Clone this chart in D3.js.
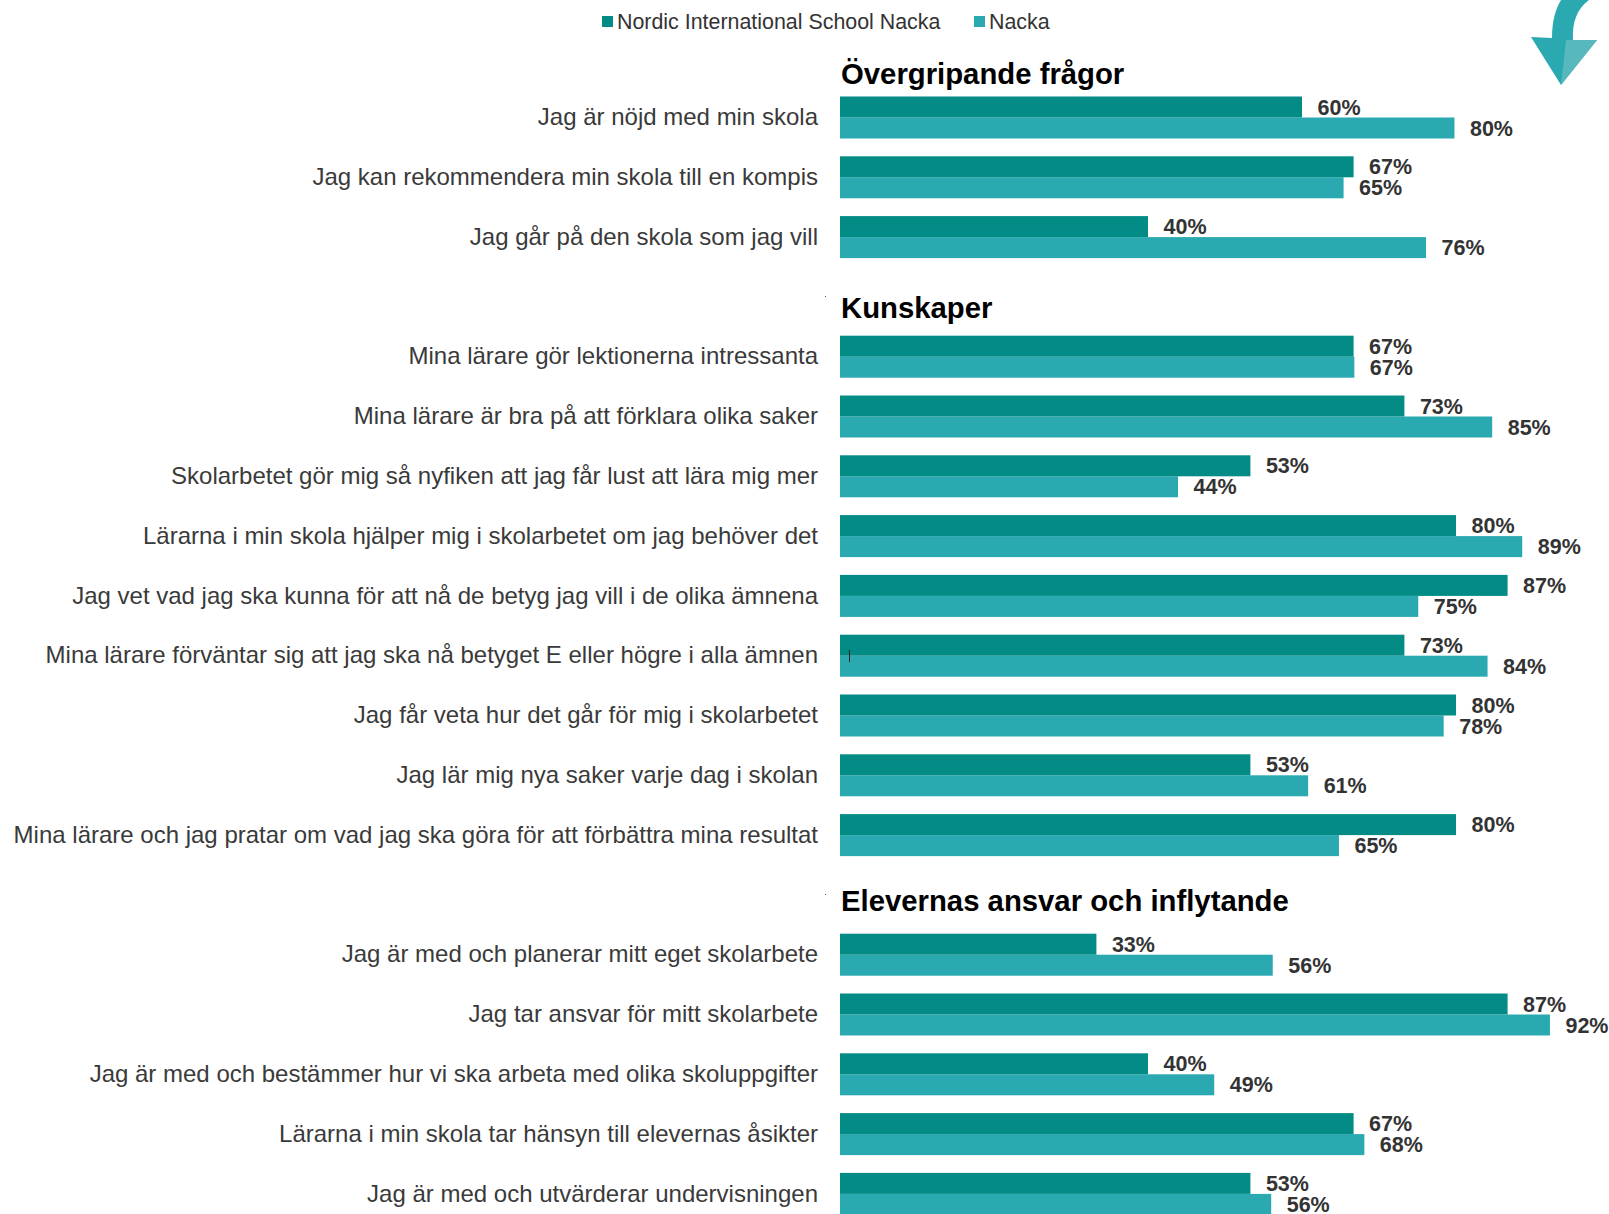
<!DOCTYPE html>
<html>
<head>
<meta charset="utf-8">
<script src="https://cdn.jsdelivr.net/npm/d3@7"></script>
<style>
    body { margin: 0; background: #fff; overflow: hidden; }
    svg { display: block; font-family: "Liberation Sans", Arial, sans-serif; }
    .axis text { font-size: 24px; fill: #3a3a3a; }
    .valueLabel { font-size: 21.5px; font-weight: bold; fill: #333; }
    .heading { font-size: 29.3px; font-weight: bold; fill: #000; }
    .legendText { font-size: 21.4px; fill: #333; }
</style>
</head>
<body>
<script>
//chart data
var seriesNames = ["Nordic International School Nacka", "Nacka"];
var seriesColors = ["#028c85", "#2aa9b0"];

var headings = ["Övergripande frågor", "Kunskaper", "Elevernas ansvar och inflytande"];
var headingLift = [13, 18, 23]; //the headings do not sit at the same distance from their bars

var questions = [
    "Jag är nöjd med min skola",
    "Jag kan rekommendera min skola till en kompis",
    "Jag går på den skola som jag vill",
    "Mina lärare gör lektionerna intressanta",
    "Mina lärare är bra på att förklara olika saker",
    "Skolarbetet gör mig så nyfiken att jag får lust att lära mig mer",
    "Lärarna i min skola hjälper mig i skolarbetet om jag behöver det",
    "Jag vet vad jag ska kunna för att nå de betyg jag vill i de olika ämnena",
    "Mina lärare förväntar sig att jag ska nå betyget E eller högre i alla ämnen",
    "Jag får veta hur det går för mig i skolarbetet",
    "Jag lär mig nya saker varje dag i skolan",
    "Mina lärare och jag pratar om vad jag ska göra för att förbättra mina resultat",
    "Jag är med och planerar mitt eget skolarbete",
    "Jag tar ansvar för mitt skolarbete",
    "Jag är med och bestämmer hur vi ska arbeta med olika skoluppgifter",
    "Lärarna i min skola tar hänsyn till elevernas åsikter",
    "Jag är med och utvärderar undervisningen"
];
var schoolValues = [60, 66.7, 40, 66.7, 73.3, 53.3, 80, 86.7, 73.3, 80, 53.3, 80, 33.3, 86.7, 40, 66.7, 53.3];
var nackaValues = [79.8, 65.4, 76.1, 66.8, 84.7, 43.9, 88.6, 75.1, 84.1, 78.4, 60.8, 64.8, 56.2, 92.2, 48.6, 68.1, 56];
//index of the question each heading goes in front of
var headingStarts = [0, 3, 12];

//chart frame dimensions
var width = 1609,
    height = 1214,
    barLeft = 840,
    barHeight = 21,
    rowStep = 59.8,
    firstBarTop = 96.5,
    labelGap = 15.5;

var svg = d3.select("body")
    .append("svg")
    .attr("width", width)
    .attr("height", height);

//rows run top to bottom, a heading other than the first takes up one row
var rows = [];
questions.forEach(function(q, i){
    var h = headingStarts.indexOf(i);
    if (h > 0) rows.push(headings[h]);
    rows.push(q);
});

var xScale = d3.scaleLinear()
    .domain([0, 100])
    .range([barLeft, barLeft + 770]);

var yScale = d3.scaleBand()
    .domain(rows)
    .range([firstBarTop - (rowStep - 2 * barHeight) / 2, firstBarTop - (rowStep - 2 * barHeight) / 2 + rowStep * rows.length]);

//bars and labels for one series
function drawSeries(values, s){
    var rowOffset = (rowStep - 2 * barHeight) / 2 + s * barHeight;

    svg.selectAll(".bar" + s)
        .data(values)
        .enter()
        .append("rect")
        .attr("class", "bar" + s)
        .attr("x", xScale(0))
        .attr("y", function(d, i){ return yScale(questions[i]) + rowOffset; })
        .attr("width", function(d){ return xScale(d) - xScale(0); })
        .attr("height", barHeight)
        .style("fill", seriesColors[s]);

    svg.selectAll(".valueLabel" + s)
        .data(values)
        .enter()
        .append("text")
        .attr("class", "valueLabel valueLabel" + s)
        .attr("x", function(d){ return xScale(d) + labelGap; })
        .attr("y", function(d, i){ return yScale(questions[i]) + rowOffset + barHeight / 2; })
        .attr("dy", "0.35em")
        .text(function(d){ return Math.round(d) + "%"; });
}
drawSeries(nackaValues, 1);
drawSeries(schoolValues, 0);

//question labels
var yAxis = d3.axisLeft(yScale)
    .tickValues(questions)
    .tickSize(0)
    .tickPadding(22);

svg.append("g")
    .attr("class", "axis")
    .attr("transform", "translate(" + barLeft + ",0)")
    .call(yAxis)
    .call(function(g){ g.select(".domain").remove(); })
    .selectAll("text")
    .style("font-family", "inherit")
    .style("font-size", "24px");

//section headings
svg.selectAll(".heading")
    .data(headings)
    .enter()
    .append("text")
    .attr("class", "heading")
    .attr("x", barLeft + 1)
    .attr("y", function(d, i){
        return yScale(questions[headingStarts[i]]) + (rowStep - 2 * barHeight) / 2 - headingLift[i];
    })
    .text(function(d){ return d; });

//legend
var legendX = [602, 974];
var legend = svg.selectAll(".legendItem")
    .data(seriesNames)
    .enter()
    .append("g")
    .attr("class", "legendItem")
    .attr("transform", function(d, i){ return "translate(" + legendX[i] + ",16)"; });
legend.append("rect")
    .attr("width", 11)
    .attr("height", 11)
    .style("fill", function(d, i){ return seriesColors[i]; });
legend.append("text")
    .attr("class", "legendText")
    .attr("x", 15)
    .attr("y", 13)
    .text(function(d){ return d; });

//the arrow in the top right corner
svg.append("path")
    .attr("d", "M1561,0 C1555,10 1552,22 1552,38 L1531,37 L1561,85 L1597,40 L1573,40 C1572,22 1577,9 1589,0 Z")
    .style("fill", "#2aa9b0");
svg.append("path")
    .attr("d", "M1561,85 L1566,40 L1597,40 Z")
    .style("fill", "#57b8bd");

//small stray marks in the picture
svg.append("line")
    .attr("x1", 849.5).attr("x2", 849.5)
    .attr("y1", 650).attr("y2", 662)
    .style("stroke", "#222").style("stroke-width", 1);
[296, 894].forEach(function(y){
    svg.append("rect").attr("x", 825).attr("y", y).attr("width", 1).attr("height", 1).style("fill", "#555");
});
</script>
</body>
</html>
